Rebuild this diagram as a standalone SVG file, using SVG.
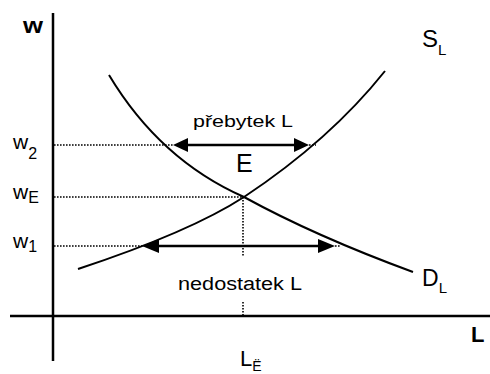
<svg xmlns="http://www.w3.org/2000/svg" width="490" height="374" viewBox="0 0 490 374">
<defs>
<style>
.ax{stroke:#000;stroke-width:2.5;fill:none}
.cv{stroke:#000;stroke-width:2;fill:none}
.dot{stroke:#000;stroke-width:1.6;stroke-dasharray:1.6,1.4;fill:none}
.ar{stroke:#000;stroke-width:2.5;fill:none}
.t{font-family:"Liberation Sans",Arial,sans-serif;fill:#000}
</style>
</defs>
<rect width="490" height="374" fill="#fff"/>
<g id="axes">
<line class="ax" x1="53" y1="13" x2="53" y2="361"/>
<line class="ax" x1="10" y1="316" x2="490" y2="316"/>
<text class="t" x="23" y="33" font-size="22" font-weight="bold" textLength="20" lengthAdjust="spacingAndGlyphs">w</text>
<text class="t" x="471" y="342" font-size="22" font-weight="bold">L</text>
</g>
<g id="connectors">
<line class="dot" x1="54" y1="145" x2="173" y2="145"/>
<line class="dot" x1="309" y1="145" x2="316" y2="145"/>
<line class="dot" x1="54" y1="197" x2="244" y2="197"/>
<line class="dot" x1="54" y1="246" x2="142" y2="246"/>
<line class="dot" x1="335" y1="246" x2="341" y2="246"/>
<line class="dot" x1="243" y1="197" x2="243" y2="257"/>
<line class="dot" x1="243" y1="302" x2="243" y2="315"/>
<line class="ar" x1="186" y1="145" x2="296" y2="145"/>
<polygon points="173,145 188,138 188,152"/>
<polygon points="309,145 294,138 294,152"/>
<line class="ar" x1="157" y1="246" x2="320" y2="246"/>
<polygon points="142,246 159,239 159,253"/>
<polygon points="335,246 318,239 318,253"/>
</g>
<g id="demand">
<path class="cv" d="M109,75 Q160,160 244,197 Q315,236 413,272"/>
<text class="t" x="422" y="286" font-size="23">D<tspan dy="7" font-size="15">L</tspan></text>
</g>
<g id="supply">
<path class="cv" d="M78,269 Q190,232 244,197 Q330,140 385,71"/>
<text class="t" x="422" y="47" font-size="24">S<tspan dy="8" font-size="15">L</tspan></text>
</g>
<g id="labels">
<text class="t" x="193" y="127" font-size="17" textLength="100" lengthAdjust="spacingAndGlyphs">přebytek L</text>
<text class="t" x="236" y="172" font-size="25">E</text>
<text class="t" x="178" y="290" font-size="18" textLength="124" lengthAdjust="spacingAndGlyphs">nedostatek L</text>
<text class="t" x="13" y="149" font-size="21">w<tspan dy="10" font-size="16">2</tspan></text>
<text class="t" x="13" y="199" font-size="21">w<tspan dy="4" font-size="16">E</tspan></text>
<text class="t" x="13" y="248" font-size="21">w<tspan dy="4" font-size="16">1</tspan></text>
<text class="t" x="240" y="366" font-size="22">L<tspan dy="5" font-size="14">Ë</tspan></text>
</g>
</svg>
